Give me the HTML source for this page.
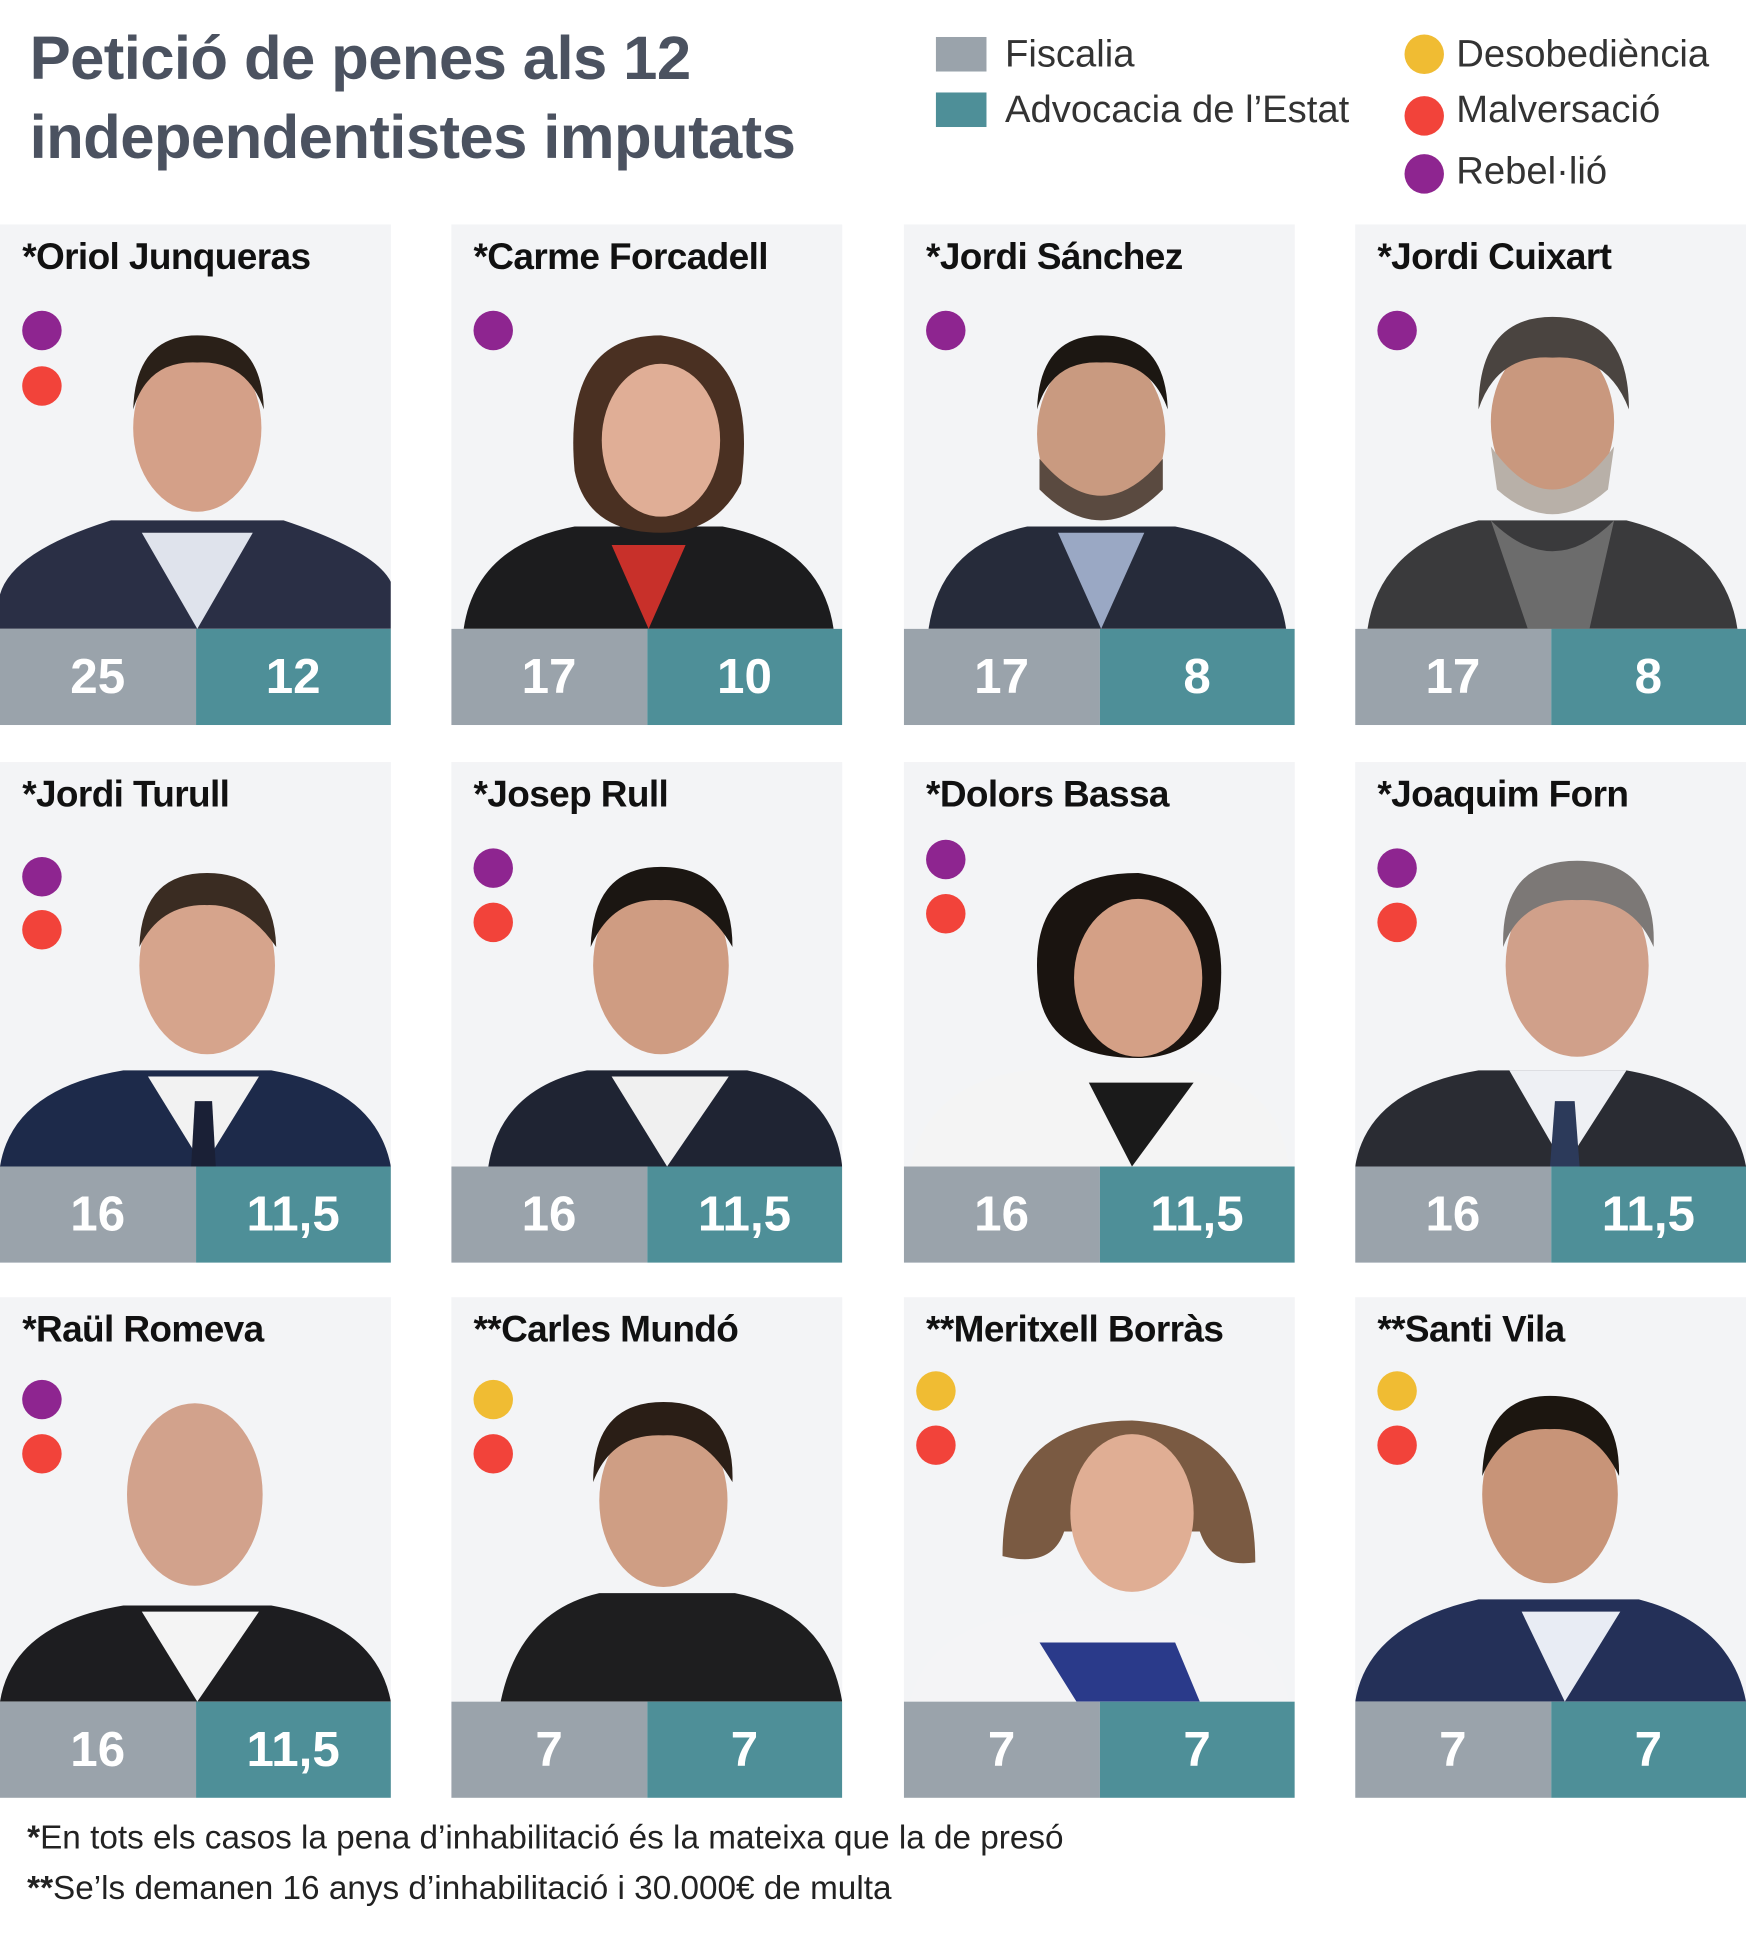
<!DOCTYPE html>
<html><head><meta charset="utf-8">
<style>
html,body{margin:0;padding:0;background:#fff;}
body{width:1746px;height:1933px;overflow:hidden;position:relative;}
#w{position:absolute;left:0;top:0;width:1416px;height:1568px;transform:scale(1.2331);transform-origin:0 0;font-family:"Liberation Sans",sans-serif;}
.t{position:absolute;left:24px;font-size:50px;font-weight:bold;color:#4b5260;letter-spacing:-0.5px;}
.lb{position:absolute;width:41px;height:28px;}
.lt{position:absolute;font-size:31px;color:#333;}
.d{position:absolute;width:32px;height:32px;border-radius:50%;}
.P{background:#8e2590;}.R{background:#f2433a;}.Y{background:#f0bc33;}
.c{position:absolute;width:317px;height:406px;background:#f3f4f6;overflow:hidden;}
.c .n{position:absolute;left:18px;top:10px;font-size:30px;font-weight:bold;color:#111;white-space:nowrap;letter-spacing:-0.5px;}
.c svg{position:absolute;left:0;top:50px;}
.c .b{position:absolute;top:328px;height:78px;width:158.5px;color:#fff;font-size:40px;font-weight:bold;text-align:center;line-height:78px;}
.g{left:0;background:#9aa3ab;}.k{left:158.5px;background:#4e8f98;}
.f{position:absolute;left:22px;font-size:27px;color:#222;}
</style></head><body><div id="w">
<div class="t" style="top:18px">Petició de penes als 12</div>
<div class="t" style="top:82px">independentistes imputats</div>
<div class="lb" style="left:759px;top:30px;background:#9aa3ab"></div>
<div class="lt" style="left:815px;top:26px">Fiscalia</div>
<div class="lb" style="left:759px;top:75px;background:#4e8f98"></div>
<div class="lt" style="left:815px;top:71px">Advocacia de l’Estat</div>
<div class="d Y" style="left:1139px;top:28px"></div><div class="lt" style="left:1181px;top:26px">Desobediència</div>
<div class="d R" style="left:1139px;top:78px"></div><div class="lt" style="left:1181px;top:71px">Malversació</div>
<div class="d P" style="left:1139px;top:125px"></div><div class="lt" style="left:1181px;top:121px">Rebel·lió</div>

<!-- template svg person -->
<div class="c" style="left:0;top:182px"><div class="n">*Oriol Junqueras</div><svg width="317" height="278"><path d="M0 278 L0 250 Q10 215 90 190 L230 190 Q305 215 317 240 L317 278Z" fill="#2a2f45"/><path d="M115 200 L160 278 L205 200Z" fill="#dfe3ec"/><ellipse cx="160" cy="115" rx="52" ry="68" fill="#d4a088"/><path d="M108 100 Q110 40 160 40 Q212 40 214 100 Q200 60 160 62 Q120 60 108 100Z" fill="#2a2018"/></svg><div class="d P" style="left:18px;top:70px"></div><div class="d R" style="left:18px;top:115px"></div><div class="b g">25</div><div class="b k">12</div></div>

<div class="c" style="left:366px;top:182px"><div class="n">*Carme Forcadell</div><svg width="317" height="278"><path d="M10 278 Q20 210 100 195 L220 195 Q300 210 310 278Z" fill="#1c1c1e"/><path d="M130 210 L160 278 L190 210Z" fill="#c8302a"/><path d="M100 150 Q90 40 170 40 Q250 50 235 160 Q215 200 170 200 Q110 200 100 150Z" fill="#4a3022"/><ellipse cx="170" cy="125" rx="48" ry="62" fill="#e0ae96"/></svg><div class="d P" style="left:18px;top:70px"></div><div class="b g">17</div><div class="b k">10</div></div>

<div class="c" style="left:733px;top:182px"><div class="n">*Jordi Sánchez</div><svg width="317" height="278"><path d="M20 278 Q30 210 100 195 L220 195 Q300 210 310 278Z" fill="#262b3a"/><path d="M125 200 L160 278 L195 200Z" fill="#9aa8c4"/><ellipse cx="160" cy="120" rx="52" ry="68" fill="#c99a80"/><path d="M110 140 Q160 200 210 140 L210 165 Q160 215 110 165Z" fill="#5a4a40"/><path d="M108 100 Q110 40 160 40 Q212 40 214 100 Q200 60 160 62 Q120 60 108 100Z" fill="#1c1712"/></svg><div class="d P" style="left:18px;top:70px"></div><div class="b g">17</div><div class="b k">8</div></div>

<div class="c" style="left:1099px;top:182px"><div class="n">*Jordi Cuixart</div><svg width="317" height="278"><path d="M10 278 Q20 210 100 190 L220 190 Q300 210 310 278Z" fill="#3a3a3c"/><path d="M110 190 Q160 240 210 190 L190 278 L140 278Z" fill="#6c6c6c"/><ellipse cx="160" cy="110" rx="50" ry="66" fill="#c9987e"/><path d="M110 130 Q160 200 210 130 L205 165 Q160 205 115 165Z" fill="#b8b0a8"/><path d="M100 100 Q100 25 160 25 Q222 25 222 100 Q205 55 160 58 Q115 55 100 100Z" fill="#4a4440"/></svg><div class="d P" style="left:18px;top:70px"></div><div class="b g">17</div><div class="b k">8</div></div>

<div class="c" style="left:0;top:618px"><div class="n">*Jordi Turull</div><svg width="317" height="278"><path d="M0 278 Q10 215 100 200 L220 200 Q305 215 317 278Z" fill="#1d2a4a"/><path d="M120 205 L165 278 L210 205Z" fill="#f2f2f2"/><path d="M158 225 L172 225 L175 278 L155 278Z" fill="#1a2036"/><ellipse cx="168" cy="115" rx="55" ry="72" fill="#d6a48c"/><path d="M113 100 Q115 40 168 40 Q222 40 224 100 Q200 65 168 66 Q130 65 113 100Z" fill="#3a2c22"/></svg><div class="d P" style="left:18px;top:77px"></div><div class="d R" style="left:18px;top:120px"></div><div class="b g">16</div><div class="b k">11,5</div></div>

<div class="c" style="left:366px;top:618px"><div class="n">*Josep Rull</div><svg width="317" height="278"><path d="M30 278 Q40 215 110 200 L240 200 Q310 215 317 278Z" fill="#1f2433"/><path d="M130 205 L175 278 L225 205Z" fill="#f0f0f0"/><ellipse cx="170" cy="115" rx="55" ry="72" fill="#cf9c82"/><path d="M113 100 Q115 35 170 35 Q228 35 228 100 Q205 60 170 62 Q130 60 113 100Z" fill="#1b1612"/></svg><div class="d P" style="left:18px;top:70px"></div><div class="d R" style="left:18px;top:114px"></div><div class="b g">16</div><div class="b k">11,5</div></div>

<div class="c" style="left:733px;top:618px"><div class="n">*Dolors Bassa</div><svg width="317" height="278"><path d="M5 278 Q20 210 100 200 L230 200 Q305 210 312 278Z" fill="#f4f4f4"/><path d="M150 210 L185 278 L235 210Z" fill="#1a1a1a"/><path d="M110 140 Q95 40 190 40 Q270 50 255 150 Q235 190 190 190 Q120 190 110 140Z" fill="#1a1410"/><ellipse cx="190" cy="125" rx="52" ry="64" fill="#d4a086"/></svg><div class="d P" style="left:18px;top:63px"></div><div class="d R" style="left:18px;top:107px"></div><div class="b g">16</div><div class="b k">11,5</div></div>

<div class="c" style="left:1099px;top:618px"><div class="n">*Joaquim Forn</div><svg width="317" height="278"><path d="M0 278 Q10 215 100 200 L220 200 Q305 215 317 278Z" fill="#2a2c33"/><path d="M125 200 L170 278 L220 200Z" fill="#eef0f4"/><path d="M162 225 L178 225 L182 278 L158 278Z" fill="#2c3a5a"/><ellipse cx="180" cy="115" rx="58" ry="74" fill="#d0a08a"/><path d="M120 100 Q118 30 180 30 Q245 30 242 100 Q225 60 180 62 Q135 60 120 100Z" fill="#7c7876"/></svg><div class="d P" style="left:18px;top:70px"></div><div class="d R" style="left:18px;top:114px"></div><div class="b g">16</div><div class="b k">11,5</div></div>

<div class="c" style="left:0;top:1052px"><div class="n">*Raül Romeva</div><svg width="317" height="278"><path d="M0 278 Q10 215 100 200 L220 200 Q305 215 317 278Z" fill="#1d1d20"/><path d="M115 205 L160 278 L210 205Z" fill="#f4f4f4"/><ellipse cx="158" cy="110" rx="55" ry="74" fill="#d2a28c"/></svg><div class="d P" style="left:18px;top:67px"></div><div class="d R" style="left:18px;top:111px"></div><div class="b g">16</div><div class="b k">11,5</div></div>

<div class="c" style="left:366px;top:1052px"><div class="n">**Carles Mundó</div><svg width="317" height="278"><path d="M40 278 Q55 205 120 190 L230 190 Q305 205 317 278Z" fill="#1e1e1f"/><ellipse cx="172" cy="115" rx="52" ry="70" fill="#cf9e84"/><path d="M115 100 Q115 35 172 35 Q230 35 228 100 Q205 60 172 62 Q130 60 115 100Z" fill="#2a1e16"/></svg><div class="d Y" style="left:18px;top:67px"></div><div class="d R" style="left:18px;top:111px"></div><div class="b g">7</div><div class="b k">7</div></div>

<div class="c" style="left:733px;top:1052px"><div class="n">**Meritxell Borràs</div><svg width="317" height="278"><path d="M5 278 Q20 215 110 205 L220 205 Q300 215 312 278Z" fill="#f4f4f6"/><path d="M110 230 L140 278 L240 278 L220 230Z" fill="#2a3a8a"/><path d="M80 160 Q80 50 185 50 Q285 55 285 165 Q250 170 240 140 L130 140 Q120 170 80 160Z" fill="#7a5a42"/><ellipse cx="185" cy="125" rx="50" ry="64" fill="#e0ae94"/></svg><div class="d Y" style="left:10px;top:60px"></div><div class="d R" style="left:10px;top:104px"></div><div class="b g">7</div><div class="b k">7</div></div>

<div class="c" style="left:1099px;top:1052px"><div class="n">**Santi Vila</div><svg width="317" height="278"><path d="M0 278 Q10 215 100 195 L230 195 Q305 215 317 278Z" fill="#243058"/><path d="M135 205 L170 278 L215 205Z" fill="#e8ecf4"/><ellipse cx="158" cy="110" rx="55" ry="72" fill="#c89478"/><path d="M103 95 Q105 30 158 30 Q215 30 214 95 Q195 55 158 57 Q120 55 103 95Z" fill="#1c1610"/></svg><div class="d Y" style="left:18px;top:60px"></div><div class="d R" style="left:18px;top:104px"></div><div class="b g">7</div><div class="b k">7</div></div>

<div class="f" style="top:1475px"><b>*</b>En tots els casos la pena d’inhabilitació és la mateixa que la de presó</div>
<div class="f" style="top:1516px"><b>**</b>Se’ls demanen 16 anys d’inhabilitació i 30.000€ de multa</div>
</div></body></html>
